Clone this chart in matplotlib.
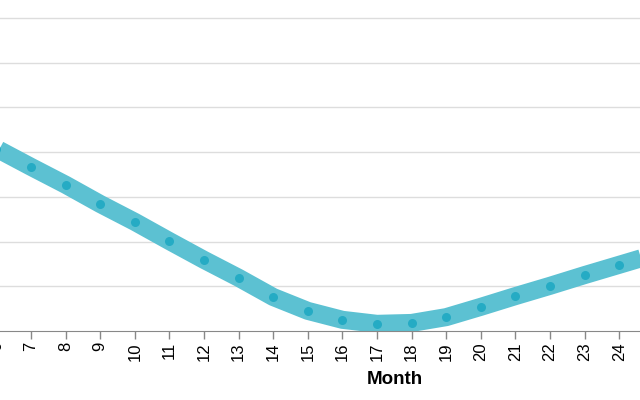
import matplotlib.pyplot as plt

plt.rcParams['font.family'] = ['Liberation Sans', 'DejaVu Sans']

# month index and the (unlabelled) measure, in gridline units
months = [6, 7, 8, 9, 10, 11, 12, 13, 14, 15, 16, 17, 18, 19, 20, 21, 22, 23, 24, 25]
values = [4.08, 3.67, 3.27, 2.84, 2.44, 2.01, 1.59, 1.19, 0.76, 0.45, 0.25, 0.16,
          0.18, 0.31, 0.54, 0.78, 1.01, 1.25, 1.48, 1.71]
tick_months = list(range(6, 26))
grid_levels = [1, 2, 3, 4, 5, 6, 7]

W, H = 640, 400
fig = plt.figure(figsize=(W / 100, H / 100), dpi=100)

# the reference is a crop of a wider chart: place the axes partly off the canvas
step = 34.6          # px per month
x7 = 31              # px position of month 7
xmin, xmax = 5.5, 25.5
left_px = x7 - (7 - xmin) * step
width_px = (xmax - xmin) * step
axis_y = 331
ymax = 7.4
ax = fig.add_axes([left_px / W, (H - axis_y) / H, width_px / W, axis_y / H])

for g in grid_levels:
    ax.axhline(g, color='#dddddd', lw=1, zorder=0)

ax.plot(months, values, color='#5cc1d2', lw=13, solid_capstyle='butt',
        solid_joinstyle='round', zorder=2)
ax.plot(months, values, 'o', color='#25abc4', ms=6.5, mec='none', zorder=3)

ax.set_xlim(xmin, xmax)
ax.set_ylim(0, ymax)
ax.set_xticks(tick_months)
ax.set_xticklabels([str(m) for m in tick_months], rotation=90, fontsize=12)
ax.set_yticks([])
for s in ['left', 'right', 'top']:
    ax.spines[s].set_visible(False)
ax.spines['bottom'].set_color('#888888')
ax.tick_params(axis='x', colors='#888888', length=6, width=1, pad=2, labelcolor='black')

fig.text(395 / W, 1 - 380 / H, 'Month', ha='center', va='center',
         fontsize=13.5, fontweight='bold')

fig.savefig('out.png', dpi=100)
